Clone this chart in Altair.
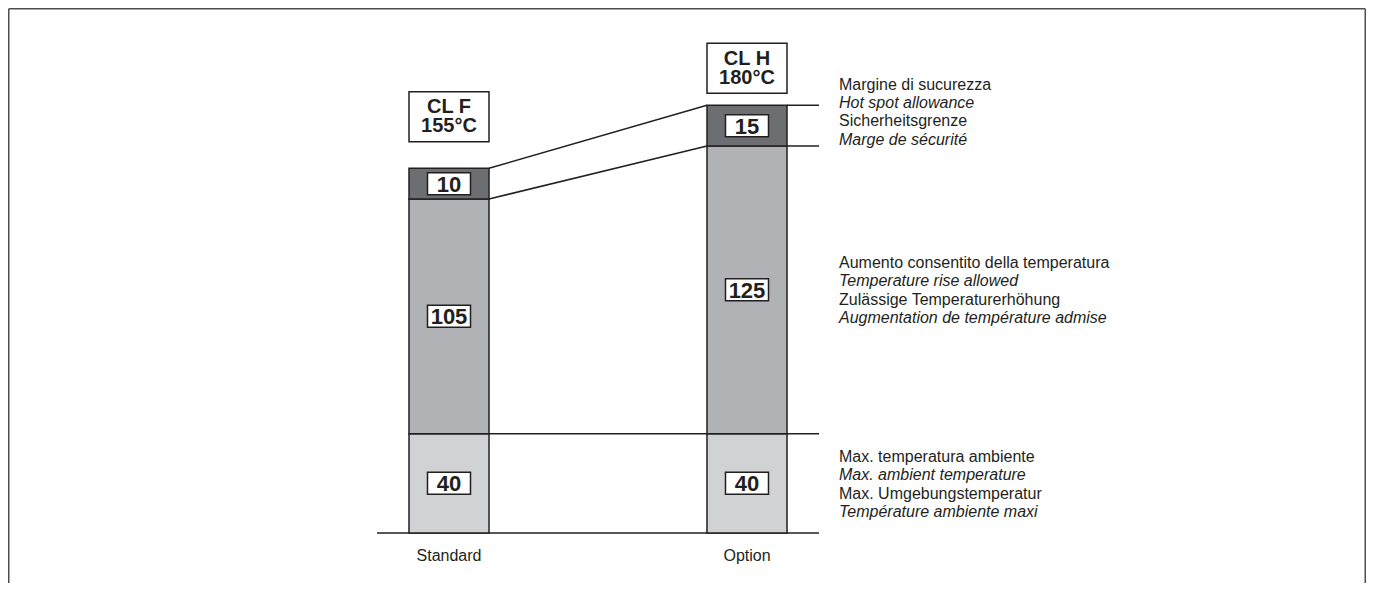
import altair as alt
import pandas as pd
import numpy as np

# ---------------- data ----------------
categories = ["Standard", "Option"]
class_names = ["CL F", "CL H"]
class_limits = ["155°C", "180°C"]
ambient = [40, 40]
rise = [105, 125]
hot_spot = [10, 15]
segments = ["ambient", "rise", "hotspot"]
segment_texts = {
    "hotspot": ["Margine di sucurezza", "Hot spot allowance",
                "Sicherheitsgrenze", "Marge de sécurité"],
    "rise": ["Aumento consentito della temperatura", "Temperature rise allowed",
             "Zulässige Temperaturerhöhung", "Augmentation de température admise"],
    "ambient": ["Max. temperatura ambiente", "Max. ambient temperature",
                "Max. Umgebungstemperatur", "Température ambiente maxi"],
}

# ---------------- style / layout ----------------
W, H = 1358, 575
DARK = "#231f20"
FONT = "Liberation Sans"
seg_colors = ["#d1d2d4", "#b1b2b5", "#6d6e71"]
y_pixels = [525, 425.7, 191, 160.3, 138, 97.3]   # schematic (non-proportional) axis
header_offsets = [-51.6, -37.0]
header_line = 19.4
label_shift = {"hotspot": -13.5, "rise": 0.5, "ambient": 1.0}
line_gap = 18.3
ext = 32

# ---------------- tables ----------------
rows = []
for i, cat in enumerate(categories):
    base = 0
    for seg, vals in zip(segments, [ambient, rise, hot_spot]):
        v = vals[i]
        rows.append(dict(cat=cat, seg=seg, value=v, y0=base, y1=base + v))
        base += v
seg_df = pd.DataFrame(rows)

y_domain = sorted(set(seg_df["y0"]).union(seg_df["y1"]))
ypx = lambda v: np.interp(v, y_domain, y_pixels)
yval = lambda p: np.interp(p, y_pixels[::-1], y_domain[::-1])
seg_df["mid"] = [float(yval((ypx(a) + ypx(b)) / 2)) for a, b in zip(seg_df.y0, seg_df.y1)]

tops = seg_df.groupby("cat", sort=False)["y1"].max()
header_df = pd.DataFrame(dict(cat=categories, top=[tops[c] for c in categories],
                              label=[[n, l] for n, l in zip(class_names, class_limits)]))

std = seg_df[seg_df.cat == "Standard"].set_index("seg")
opt = seg_df[seg_df.cat == "Option"].set_index("seg")
connect_df = pd.DataFrame(dict(
    a=["Standard", "Standard"], b=["Option", "Option"],
    ya=[std.loc["hotspot", "y1"], std.loc["hotspot", "y0"]],
    yb=[opt.loc["hotspot", "y1"], opt.loc["hotspot", "y0"]]))
right_df = pd.DataFrame(dict(cat=["Option", "Option"],
                             yv=[opt.loc["hotspot", "y1"], opt.loc["hotspot", "y0"]]))
mid_line_df = pd.DataFrame(dict(a=["Standard"], b=["Option"], yv=[std.loc["ambient", "y1"]]))
base_df = pd.DataFrame(dict(a=["Standard"], b=["Option"], yv=[0]))

label_rows = []
for seg in segments:
    for k, t in enumerate(segment_texts[seg]):
        label_rows.append(dict(cat="Option", seg=seg, line=k, text=t, y=opt.loc[seg, "mid"]))
label_df = pd.DataFrame(label_rows)

# ---------------- scales ----------------
xs = alt.Scale(type="band", domain=categories, range=[252, 928],
               paddingInner=0.7315, paddingOuter=0.5)
ys = alt.Scale(type="linear", domain=y_domain, range=y_pixels, nice=False, zero=False)

def X(field, bp=0.5):
    return alt.X(field, type="nominal", scale=xs, axis=None, bandPosition=bp)

def Y(field):
    return alt.Y(field, type="quantitative", scale=ys, axis=None)

layers = []

# baseline
layers.append(alt.Chart(base_df).mark_rule(color=DARK, strokeWidth=1.5, xOffset=-ext, x2Offset=ext)
              .encode(x=X("a", 0), x2=alt.X2("b", bandPosition=1), y=Y("yv")))
# ambient top line
layers.append(alt.Chart(mid_line_df).mark_rule(color=DARK, strokeWidth=1.5, x2Offset=ext)
              .encode(x=X("a", 1), x2=alt.X2("b", bandPosition=1), y=Y("yv")))
# right extension lines
layers.append(alt.Chart(right_df).mark_rule(color=DARK, strokeWidth=1.5, x2Offset=ext)
              .encode(x=X("cat", 1), x2=alt.X2("cat", bandPosition=1), y=Y("yv")))
# connectors
layers.append(alt.Chart(connect_df).mark_rule(color=DARK, strokeWidth=1.5)
              .encode(x=X("a", 1), x2=alt.X2("b", bandPosition=0), y=Y("ya"), y2="yb"))

# bars
layers.append(alt.Chart(seg_df).mark_bar(stroke=DARK, strokeWidth=1.5, opacity=1)
              .encode(x=X("cat"), y=Y("y0"), y2="y1",
                      color=alt.Color("seg:N", scale=alt.Scale(domain=segments, range=seg_colors),
                                      legend=None)))

# value boxes
vbox = "M-1,-0.5116L1,-0.5116L1,0.5116L-1,0.5116Z"
layers.append(alt.Chart(seg_df).mark_point(shape=vbox, size=1849, filled=True, fill="white",
                                           stroke=DARK, strokeWidth=1.5, opacity=1)
              .encode(x=X("cat"), y=Y("mid")))
layers.append(alt.Chart(seg_df).mark_text(font=FONT, fontSize=22, fontWeight="bold", color=DARK,
                                          baseline="middle", align="center", dy=1)
              .encode(x=X("cat"), y=Y("mid"), text="value:Q"))

# class headers
hbox = "M-1,-0.625L1,-0.625L1,0.625L-1,0.625Z"
for cat, off in zip(categories, header_offsets):
    d = header_df[header_df.cat == cat]
    layers.append(alt.Chart(d).mark_point(shape=hbox, size=6400, filled=True, fill="white",
                                          stroke=DARK, strokeWidth=1.5, opacity=1, yOffset=off)
                  .encode(x=X("cat"), y=Y("top")))
    layers.append(alt.Chart(d).mark_text(font=FONT, fontSize=20, fontWeight="bold", color=DARK,
                                         baseline="middle", yOffset=off, dy=-header_line / 2,
                                         lineHeight=header_line)
                  .encode(x=X("cat"), y=Y("top"), text="label"))

# category labels
cat_df = pd.DataFrame(dict(cat=categories, yv=[0, 0]))
layers.append(alt.Chart(cat_df).mark_text(font=FONT, fontSize=16, color=DARK, baseline="middle", dy=23)
              .encode(x=X("cat"), y=Y("yv"), text="cat:N"))

# right-hand multilingual labels
for seg in segments:
    for k in range(4):
        d = label_df[(label_df.seg == seg) & (label_df.line == k)]
        layers.append(alt.Chart(d).mark_text(font=FONT, fontSize=16, color=DARK, align="left",
                                             baseline="middle", dx=52,
                                             fontStyle="italic" if k % 2 else "normal",
                                             dy=label_shift[seg] + (k - 1.5) * line_gap)
                      .encode(x=X("cat", 1), y=Y("y"), text="text:N"))

# frame (top, left, right)
fr = dict(color="#4d4d4d", strokeWidth=1.5)
fdf = pd.DataFrame({"k": [0]})
layers.append(alt.Chart(fdf).mark_rule(**fr).encode(x=alt.value(0.75), x2=alt.value(W - 0.75),
                                                     y=alt.value(0.75)))
layers.append(alt.Chart(fdf).mark_rule(**fr).encode(x=alt.value(0.75), y=alt.value(0.75),
                                                     y2=alt.value(H)))
layers.append(alt.Chart(fdf).mark_rule(**fr).encode(x=alt.value(W - 0.75), y=alt.value(0.75),
                                                     y2=alt.value(H)))

chart = (alt.layer(*layers)
         .properties(width=W, height=H, autosize=alt.AutoSizeParams(type="none"), padding=0,
                     background="white")
         .configure_view(stroke=None))

chart.save("out.html", embed_options={"renderer": "svg", "actions": False})
